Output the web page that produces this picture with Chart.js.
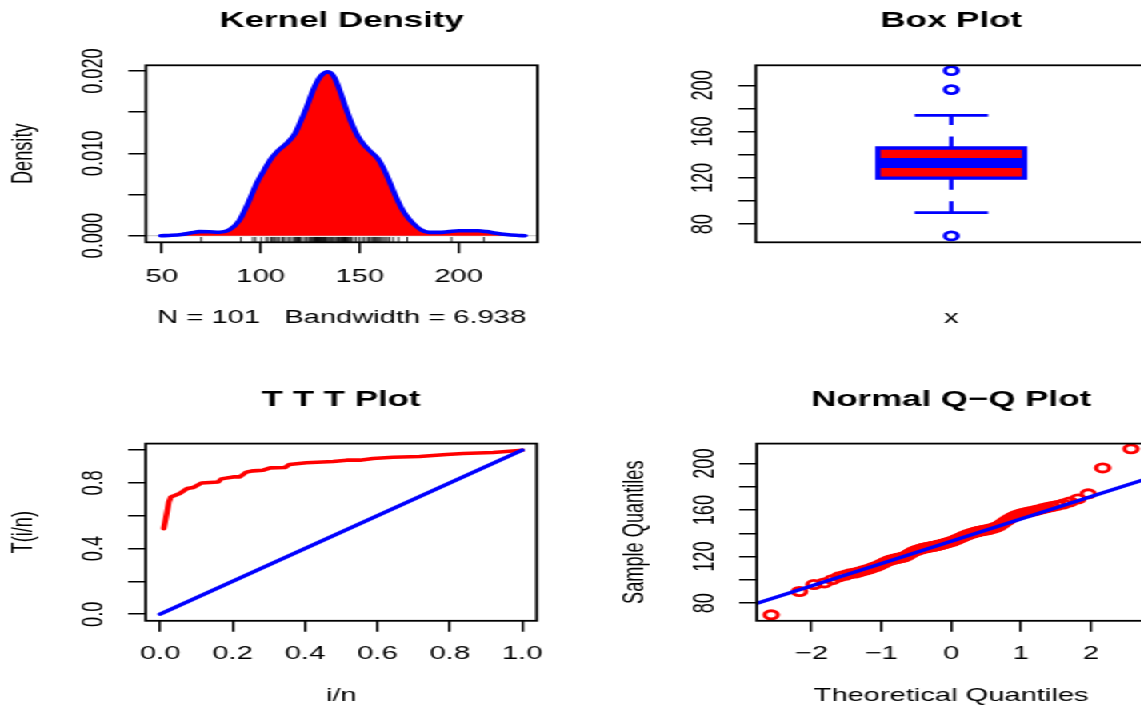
<!DOCTYPE html>
<html>
<head>
<meta charset="utf-8">
<script src="https://cdn.jsdelivr.net/npm/chart.js@4/dist/chart.umd.min.js"></script>
<style>
  html, body { margin: 0; padding: 0; background: #fff; width: 1141px; height: 708px; overflow: hidden; }
  /* the R device was stretched sideways, so the whole sheet is drawn narrow and widened */
  #sheet { position: absolute; left: 0; top: 0; width: 713.125px; height: 708px; transform: scaleX(1.6); transform-origin: 0 0; overflow: hidden; }
  .panel { position: absolute; }
</style>
</head>
<body>
<div id="sheet">
  <div class="panel" style="left:0;top:0"><canvas id="kd" width="356" height="354"></canvas></div>
  <div class="panel" style="left:356.5px;top:0"><canvas id="bp" width="366" height="354"></canvas></div>
  <div class="panel" style="left:0;top:354px"><canvas id="ttt" width="356" height="354"></canvas></div>
  <div class="panel" style="left:356.5px;top:354px"><canvas id="qq" width="366" height="354"></canvas></div>
</div>
<script>
// ---- data ----
const densX = [49.5, 55, 60, 65, 69, 74, 79, 84, 89, 94, 98, 102, 105, 109, 113, 117, 120, 123, 127, 130, 134, 137, 140,
  143, 146, 149, 152, 156, 159, 162, 165, 168, 171, 174, 177, 181, 185, 190, 195, 200, 205, 210, 214, 219, 224, 229, 233.5];
const densY = [0, 0.00005, 0.00015, 0.00035, 0.0005, 0.00048, 0.00042, 0.0007, 0.0018, 0.0042, 0.0064, 0.0081, 0.0093,
  0.0104, 0.0112, 0.0123, 0.0138, 0.0155, 0.018, 0.0193, 0.0199, 0.0193, 0.0176, 0.0155, 0.0136, 0.0121, 0.0111, 0.0101,
  0.0094, 0.0082, 0.0066, 0.0049, 0.0034, 0.0023, 0.0015, 0.0007, 0.0004, 0.0004, 0.0005, 0.0006, 0.0006, 0.0006, 0.0005,
  0.0003, 0.00015, 0.00005, 0];

// sorted sample (N = 101), used for the rug and the Q-Q points
const sampleValues = [69.9, 90.0, 96.0, 97.4, 100.2, 102.6, 103.9, 105.3, 105.9, 106.8, 107.9, 108.8, 109.6, 110.9, 111.6,
  112.9, 114.0, 115.2, 116.3, 117.1, 117.6, 118.1, 118.6, 119.0, 119.4, 119.8, 120.9, 122.0, 123.0, 124.1, 124.8, 125.4,
  126.0, 126.5, 127.0, 127.4, 127.7, 128.0, 128.3, 128.6, 128.9, 129.2, 129.5, 129.9, 130.3, 130.7, 131.1, 131.6, 132.0,
  132.4, 132.8, 133.4, 134.0, 134.6, 135.3, 135.9, 136.6, 137.3, 138.0, 138.6, 139.2, 139.7, 140.2, 140.7, 141.1, 141.5,
  141.9, 142.2, 142.5, 142.8, 143.1, 143.5, 144.0, 144.6, 145.2, 145.8, 146.9, 148.2, 149.6, 151.0, 152.3, 153.5, 154.6,
  155.6, 156.4, 157.1, 157.7, 158.3, 158.9, 159.6, 160.4, 161.3, 162.2, 163.1, 164.0, 165.2, 167.0, 169.6, 174.0, 196.3, 212.7];

// positive half of the theoretical normal quantiles (the axis is symmetric)
const qqPosQuantiles = [0.025, 0.050, 0.075, 0.099, 0.124, 0.149, 0.175, 0.200, 0.225, 0.251, 0.276, 0.302, 0.328, 0.354,
  0.381, 0.408, 0.435, 0.462, 0.490, 0.518, 0.547, 0.576, 0.605, 0.636, 0.667, 0.698, 0.730, 0.763, 0.796, 0.831, 0.867,
  0.903, 0.941, 0.980, 1.021, 1.064, 1.109, 1.156, 1.206, 1.259, 1.316, 1.377, 1.445, 1.519, 1.603, 1.700, 1.816, 1.963,
  2.170, 2.576];
const qqTheoretical = [...qqPosQuantiles.slice().reverse().map(v => -v), 0, ...qqPosQuantiles];
const qqLineX = [-3, 3];
const qqLineY = [75.6, 190.8];

const boxQ1 = 119.8, boxMedian = 132.8, boxQ3 = 145.8;
const whiskerLow = 90.0, whiskerHigh = 174.0;
const boxOutliers = [212.7, 196.3, 69.9];

const tttX = [0.0099, 0.0198, 0.024, 0.0297, 0.054, 0.0745, 0.091, 0.114, 0.16, 0.169, 0.2015, 0.22, 0.238, 0.257, 0.285,
  0.304, 0.345, 0.357, 0.404, 0.478, 0.515, 0.552, 0.588, 0.643, 0.717, 0.791, 0.837, 0.92, 1.0];
const tttY = [0.522, 0.634, 0.685, 0.715, 0.736, 0.766, 0.772, 0.800, 0.806, 0.825, 0.837, 0.837, 0.866, 0.874, 0.878,
  0.892, 0.894, 0.913, 0.923, 0.931, 0.939, 0.939, 0.949, 0.957, 0.961, 0.974, 0.980, 0.986, 1.0];
const diagX = [0, 1];
const diagY = [0, 1];

// ticks
const kdXTicks = [50, 100, 150, 200], kdXLabels = ['50', '100', '150', '200'];
const kdYTicks = [0, 0.005, 0.01, 0.015, 0.02], kdYLabels = ['0.000', '', '0.010', '', '0.020'];
const valTicks = [80, 100, 120, 140, 160, 180, 200], valLabels = ['80', '', '120', '', '160', '', '200'];
const unitTicks = [0, 0.2, 0.4, 0.6, 0.8, 1], unitXLabels = ['0.0', '0.2', '0.4', '0.6', '0.8', '1.0'];
const unitYLabels = ['0.0', '', '0.4', '', '0.8', ''];
const qqXTicks = [-2, -1, 0, 1, 2], qqXLabels = ['\u22122', '\u22121', '0', '1', '2'];

// axis limits
const kdXMin = 42.0, kdXMax = 239.8, kdYMin = -0.0008, kdYMax = 0.0207;

// ---- drawing ----
const FONT = '"Liberation Sans", Arial, Helvetica, sans-serif';
const TICK = 18.2, MAIN = 21.8, LH = TICK * 1.2;
Chart.defaults.font.family = FONT;
Chart.defaults.font.size = TICK;
Chart.defaults.color = '#000';
const RED = '#ff0000', BLUE = '#0000ff';

const measure = document.createElement('canvas').getContext('2d');
function widest(labels) {
  measure.font = TICK + 'px ' + FONT;
  return Math.max(...labels.map(l => measure.measureText(l).width));
}

const boxPlugin = {
  id: 'rbox',
  afterDatasetsDraw(chart) {
    const a = chart.chartArea, c = chart.ctx;
    c.save();
    c.strokeStyle = '#000';
    c.lineWidth = 1.8;
    c.strokeRect(a.left, a.top, a.right - a.left, a.bottom - a.top);
    c.restore();
  }
};

const tickGrid = { drawOnChartArea: false, drawTicks: true, tickLength: 11, color: '#000', lineWidth: 1.5 };

function xAxis(f, a) {
  return {
    type: 'linear', min: a.min, max: a.max,
    afterBuildTicks: a.ticks ? s => { s.ticks = a.ticks.map(v => ({ value: v })); } : undefined,
    afterFit: s => { s.height = f.H - f.B; },
    ticks: {
      display: !!a.ticks, autoSkip: false, minRotation: 0, maxRotation: 0,
      padding: f.xGap - 11 - LH / 2, color: '#000',
      callback: (v, i) => a.labels ? a.labels[i] : ''
    },
    grid: a.ticks ? tickGrid : { display: false },
    border: { display: false },
    title: { display: true, text: a.title, color: '#000', font: { size: TICK }, padding: { top: 0, bottom: f.H - f.B - 75.5 - LH / 2 } }
  };
}

function yAxis(f, a) {
  return {
    type: 'linear', min: a.min, max: a.max,
    afterBuildTicks: s => { s.ticks = a.ticks.map(v => ({ value: v })); },
    afterFit: s => { s.width = f.L; },
    ticks: {
      autoSkip: false, minRotation: 90, maxRotation: 90, crossAlign: 'center',
      padding: 32.3 - 11 - widest(a.labels) / 2, color: '#000',
      callback: (v, i) => a.labels[i]
    },
    grid: tickGrid,
    border: { display: false },
    title: { display: !!a.title, text: a.title || '', color: '#000', font: { size: TICK }, padding: { top: f.L - 76 - LH / 2, bottom: 0 } }
  };
}

function mainTitle(text, T) {
  const lh = MAIN * 1.2, mid = T - 44;
  return {
    display: true, text, fullSize: false, color: '#000',
    font: { size: MAIN, weight: 'bold' },
    padding: { top: mid - lh / 2, bottom: T - mid - lh / 2 }
  };
}

function draw(id, f, title, scales, datasets) {
  new Chart(document.getElementById(id), {
    type: 'line',
    data: { datasets },
    options: {
      responsive: false, animation: false, events: [], devicePixelRatio: 1,
      layout: { autoPadding: false, padding: { left: 0, top: 0, bottom: 0, right: f.W - f.R } },
      plugins: { legend: { display: false }, tooltip: { enabled: false }, title: mainTitle(title, f.T) },
      scales
    },
    plugins: [boxPlugin]
  });
}

const xy = (xs, ys) => xs.map((x, i) => ({ x, y: ys[i] }));
const line = (xs, ys, color, width, extra) => Object.assign({
  data: xy(xs, ys), borderColor: color, borderWidth: width, pointRadius: 0, fill: false,
  borderCapStyle: 'round', borderJoinStyle: 'round'
}, extra);
const points = (xs, ys, color, r, bw) => ({
  data: xy(xs, ys), showLine: false, pointStyle: 'circle', pointRadius: r, pointBorderWidth: bw,
  pointBorderColor: color, pointBackgroundColor: 'rgba(0,0,0,0)'
});

// panel frames (canvas-local, before the sideways stretch)
const fKD = { W: 356, H: 354, L: 91.25, R: 335.9, T: 65.3, B: 242.3, xGap: 34.7 };
const fBP = { W: 366, H: 354, L: 115.4, R: 359.75, T: 65.3, B: 242.3, xGap: 34.7 };
const fTT = { W: 356, H: 354, L: 91.06, R: 335.4, T: 89.6, B: 266.8, xGap: 32.9 };
const fQQ = { W: 366, H: 354, L: 116, R: 358.9, T: 89.6, B: 266.8, xGap: 32.9 };

// Kernel density
const rugY = kdYMin + 0.015 * (kdYMax - kdYMin);
draw('kd', fKD, 'Kernel Density', {
  x: xAxis(fKD, { min: kdXMin, max: kdXMax, ticks: kdXTicks, labels: kdXLabels, title: 'N = 101   Bandwidth = 6.938' }),
  y: yAxis(fKD, { min: kdYMin, max: kdYMax, ticks: kdYTicks, labels: kdYLabels, title: 'Density' })
}, [
  { data: sampleValues.map(v => ({ x: v, y: rugY })), showLine: false, pointStyle: 'line', pointRotation: 90,
    pointRadius: 2.65, pointBorderWidth: 0.8, pointBorderColor: '#000', clip: false },
  line(densX, densY, BLUE, 3.6, { fill: 'origin', backgroundColor: RED, cubicInterpolationMode: 'monotone' }),
  line([kdXMin, kdXMax], [0, 0], '#bebebe', 1, { clip: 0 })
]);

// Box plot
const bx0 = 0.8125, bx1 = 1.1875, cx0 = 0.906, cx1 = 1.094;
draw('bp', fBP, 'Box Plot', {
  x: xAxis(fBP, { min: 0.5, max: 1.5, title: 'x' }),
  y: yAxis(fBP, { min: 64.4, max: 217.3, ticks: valTicks, labels: valLabels })
}, [
  points(boxOutliers.map(() => 1), boxOutliers, BLUE, 4.0, 2.8),
  line([bx0, bx1], [boxMedian, boxMedian], BLUE, 10, { borderCapStyle: 'butt' }),
  line([bx0, bx1, bx1, bx0, bx0, bx1], [boxQ1, boxQ1, boxQ3, boxQ3, boxQ1, boxQ1], BLUE, 3.4,
    { borderCapStyle: 'butt', borderJoinStyle: 'miter' }),
  line([bx0, bx1], [boxQ3, boxQ3], 'rgba(0,0,0,0)', 1, { fill: '+1', backgroundColor: RED }),
  line([bx0, bx1], [boxQ1, boxQ1], 'rgba(0,0,0,0)', 1),
  line([cx0, cx1], [whiskerHigh, whiskerHigh], BLUE, 2.7, { borderCapStyle: 'butt' }),
  line([cx0, cx1], [whiskerLow, whiskerLow], BLUE, 2.7, { borderCapStyle: 'butt' }),
  line([1, 1], [boxQ3, whiskerHigh], BLUE, 2.6, { borderCapStyle: 'butt', borderDash: [11.5, 11.5] }),
  line([1, 1], [boxQ1, whiskerLow], BLUE, 2.6, { borderCapStyle: 'butt', borderDash: [11.5, 11.5] })
]);

// TTT plot
draw('ttt', fTT, 'T T T Plot', {
  x: xAxis(fTT, { min: -0.04, max: 1.04, ticks: unitTicks, labels: unitXLabels, title: 'i/n' }),
  y: yAxis(fTT, { min: -0.04, max: 1.04, ticks: unitTicks, labels: unitYLabels, title: 'T(i/n)' })
}, [
  line(diagX, diagY, BLUE, 3.4),
  line(tttX, tttY, RED, 3.6)
]);

// Normal Q-Q plot
draw('qq', fQQ, 'Normal Q\u2212Q Plot', {
  x: xAxis(fQQ, { min: -2.782, max: 2.782, ticks: qqXTicks, labels: qqXLabels, title: 'Theoretical Quantiles' }),
  y: yAxis(fQQ, { min: 64.8, max: 217.2, ticks: valTicks, labels: valLabels, title: 'Sample Quantiles' })
}, [
  line(qqLineX, qqLineY, BLUE, 3.4, { clip: 0 }),
  points(qqTheoretical, sampleValues, RED, 4.1, 2.8)
]);
</script>
</body>
</html>
